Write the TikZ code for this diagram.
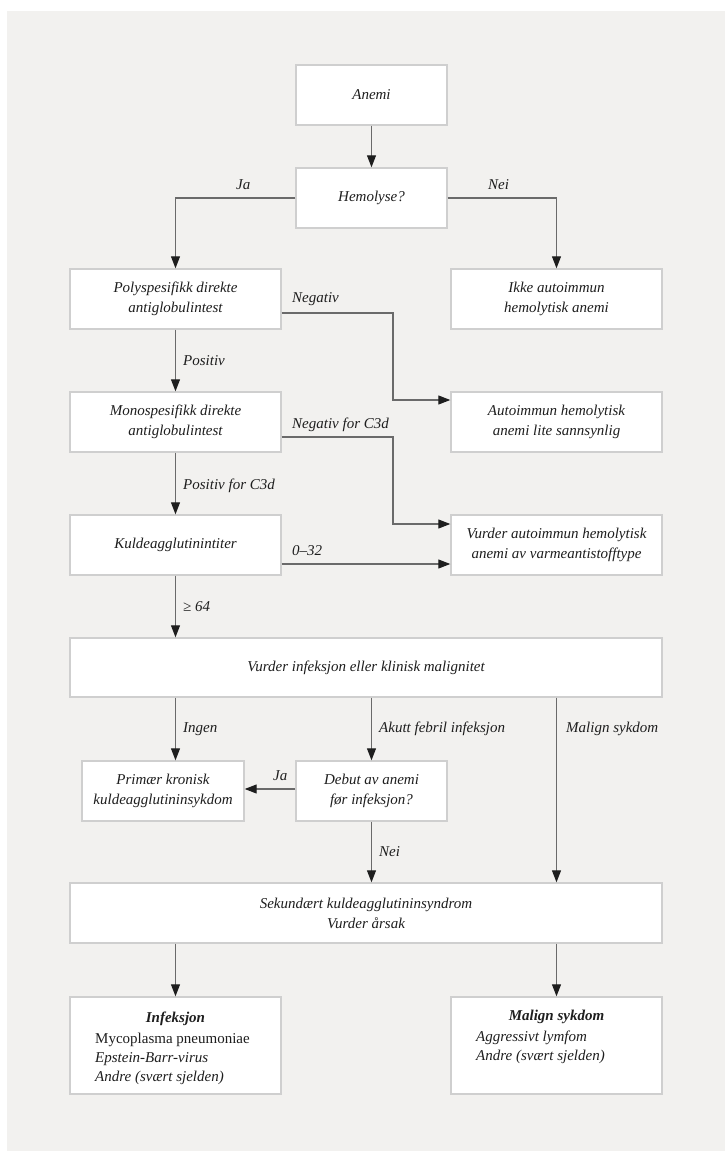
\documentclass[tikz,border=0pt]{standalone}
\usepackage{fontspec}
\setmainfont{Liberation Serif}
\usetikzlibrary{arrows.meta,calc}
\definecolor{bg}{HTML}{F2F1EF}
\definecolor{boxline}{HTML}{CFCFCF}
\definecolor{connc}{HTML}{6A6A6A}
\definecolor{txt}{HTML}{1E1E1E}
\begin{document}
\begin{tikzpicture}[x=1pt,y=-1pt,
 box/.style={draw=boxline,line width=1.4pt,fill=white,inner sep=0pt,align=center,text=txt,font=\fontsize{15}{20}\selectfont\itshape},
 lbl/.style={inner sep=0pt,anchor=base west,text=txt,font=\fontsize{15}{20}\selectfont\itshape},
 txtl/.style={inner sep=0pt,anchor=base west,text=txt,font=\fontsize{15}{20}\selectfont\itshape},
 ttl/.style={inner sep=0pt,anchor=base,text=txt,font=\fontsize{15}{20}\selectfont\bfseries\itshape},
 conn/.style={draw=connc,line width=1.1pt,-{Triangle[length=12pt,width=9pt,color=txt]}}
]
\useasboundingbox (0,0) rectangle (725,1151);
\fill[white] (0,0) rectangle (725,1151);
\fill[bg] (7,11) rectangle (725,1151);

\node[box,minimum width=151pt,minimum height=60pt] (anemi) at (371.5,95) {Anemi};
\node[box,minimum width=151pt,minimum height=60pt] (hemo) at (371.5,198) {Hemolyse?};
\node[box,minimum width=211pt,minimum height=60pt] (poly) at (175.5,299) {Polyspesifikk direkte\\antiglobulintest};
\node[box,minimum width=211pt,minimum height=60pt] (ikke) at (556.5,299) {Ikke autoimmun\\hemolytisk anemi};
\node[box,minimum width=211pt,minimum height=60pt] (mono) at (175.5,422) {Monospesifikk direkte\\antiglobulintest};
\node[box,minimum width=211pt,minimum height=60pt] (aiha) at (556.5,422) {Autoimmun hemolytisk\\anemi lite sannsynlig};
\node[box,minimum width=211pt,minimum height=60pt] (kulde) at (175.5,545) {Kuldeagglutinintiter};
\node[box,minimum width=211pt,minimum height=60pt] (varme) at (556.5,545) {Vurder autoimmun hemolytisk\\anemi av varmeantistofftype};
\node[box,minimum width=592pt,minimum height=59pt] (vurd) at (366,667.5) {Vurder infeksjon eller klinisk malignitet};
\node[box,minimum width=162pt,minimum height=60pt] (prim) at (163,791) {Primær kronisk\\kuldeagglutininsykdom};
\node[box,minimum width=151pt,minimum height=60pt] (debut) at (371.5,791) {Debut av anemi\\før infeksjon?};
\node[box,minimum width=592pt,minimum height=60pt] (sek) at (366,913) {Sekundært kuldeagglutininsyndrom\\Vurder årsak};
\node[box,minimum width=211pt,minimum height=97pt] (inf) at (175.5,1045.5) {};
\node[box,minimum width=211pt,minimum height=97pt] (mal) at (556.5,1045.5) {};

% box contents
\node[ttl] (inft) at (175.5,1022) {Infeksjon};
\node[txtl,font=\fontsize{15}{20}\selectfont\upshape] (inf1) at (95,1043) {Mycoplasma pneumoniae};
\node[txtl] (inf2) at (95,1062) {Epstein-Barr-virus};
\node[txtl] (inf3) at (95,1081) {Andre (svært sjelden)};
\node[ttl] (malt) at (556.5,1020) {Malign sykdom};
\node[txtl] (mal1) at (476,1041) {Aggressivt lymfom};
\node[txtl] (mal2) at (476,1060) {Andre (svært sjelden)};

% junction coordinates
\coordinate (jx) at (393,0);

% connectors
\draw[conn] (anemi) -- (hemo);
\draw[conn] (hemo.west) -| (poly.north);
\draw[conn] (hemo.east) -| (ikke.north);
\draw[conn] ($(poly.east)+(0,14)$) -| ($(jx |- aiha.west)+(0,-22)$) -- ($(aiha.west)+(0,-22)$);
\draw[conn] (poly) -- (mono);
\draw[conn] ($(mono.east)+(0,15)$) -| ($(jx |- varme.west)+(0,-21)$) -- ($(varme.west)+(0,-21)$);
\draw[conn] (mono) -- (kulde);
\draw[conn] ($(kulde.east)+(0,19)$) -- ($(varme.west)+(0,19)$);
\draw[conn] (kulde.south) -- (kulde.south |- vurd.north);
\draw[conn] (vurd.south -| kulde.south) -- (prim.north -| kulde.south);
\draw[conn] (vurd.south -| debut.north) -- (debut.north);
\draw[conn] ($(debut.west)+(0,-2)$) -- ($(prim.east)+(0,-2)$);
\draw[conn] (debut.south) -- (sek.north -| debut.south);
\draw[conn] (vurd.south -| ikke.south) -- (sek.north -| ikke.south);
\draw[conn] (sek.south -| inf.north) -- (inf.north);
\draw[conn] (sek.south -| mal.north) -- (mal.north);

% labels
\node[lbl] (l1) at (236,189) {Ja};
\node[lbl] (l2) at (488,189) {Nei};
\node[lbl] (l3) at (292,302) {Negativ};
\node[lbl] (l4) at (183,365) {Positiv};
\node[lbl] (l5) at (292,428) {Negativ for C3d};
\node[lbl] (l6) at (183,489) {Positiv for C3d};
\node[lbl] (l7) at (292,555) {0–32};
\node[lbl] (l8) at (183,611) {≥ 64};
\node[lbl] (l9) at (183,732) {Ingen};
\node[lbl] (l10) at (379,732) {Akutt febril infeksjon};
\node[lbl] (l11) at (566,732) {Malign sykdom};
\node[lbl] (l12) at (273,780) {Ja};
\node[lbl] (l13) at (379,856) {Nei};
\end{tikzpicture}
\end{document}
